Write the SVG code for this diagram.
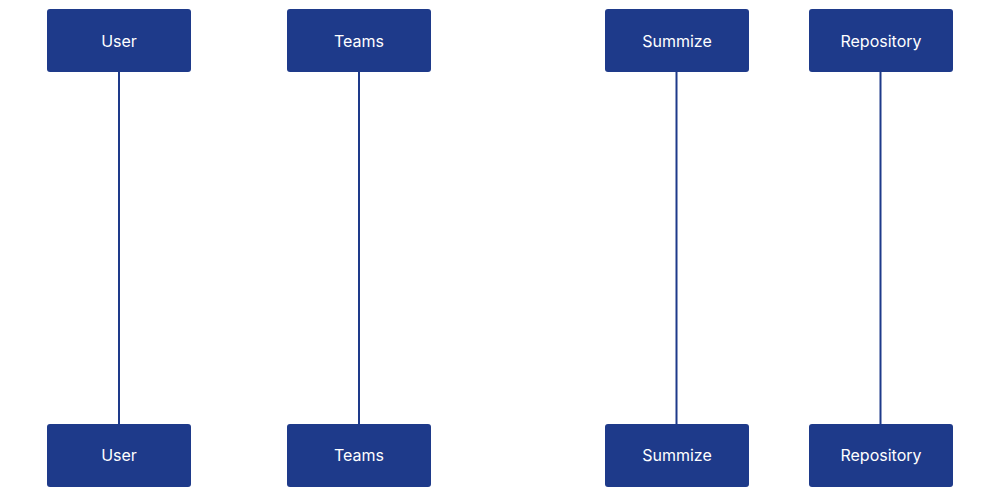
<svg xmlns="http://www.w3.org/2000/svg" width="1000" height="496" viewBox="0 0 1000 496">
<style>
.b{fill:#1e3a8a;}
.t{fill:#fff;font-family:Inter,"Liberation Sans",sans-serif;font-size:16px;text-anchor:middle;dominant-baseline:central;}
.l{stroke:#1e3a8a;stroke-width:2;}
</style>
<rect width="1000" height="496" fill="#fff"/>
<g id="connectors">
<line class="l" x1="119" y1="72" x2="119" y2="424"/>
<line class="l" x1="359" y1="72" x2="359" y2="424"/>
<line class="l" x1="676.500" y1="72" x2="676.500" y2="424"/>
<line class="l" x1="880.500" y1="72" x2="880.500" y2="424"/>
</g>
<g id="user-top"><rect class="b" x="47" y="9" width="144" height="63" rx="3"/><text class="t" x="119" y="41">User</text></g>
<g id="teams-top"><rect class="b" x="287" y="9" width="144" height="63" rx="3"/><text class="t" x="359" y="41">Teams</text></g>
<g id="summize-top"><rect class="b" x="605" y="9" width="144" height="63" rx="3"/><text class="t" x="677" y="41">Summize</text></g>
<g id="repository-top"><rect class="b" x="809" y="9" width="144" height="63" rx="3"/><text class="t" x="881" y="41">Repository</text></g>
<g id="user-bottom"><rect class="b" x="47" y="424" width="144" height="63" rx="3"/><text class="t" x="119" y="455">User</text></g>
<g id="teams-bottom"><rect class="b" x="287" y="424" width="144" height="63" rx="3"/><text class="t" x="359" y="455">Teams</text></g>
<g id="summize-bottom"><rect class="b" x="605" y="424" width="144" height="63" rx="3"/><text class="t" x="677" y="455">Summize</text></g>
<g id="repository-bottom"><rect class="b" x="809" y="424" width="144" height="63" rx="3"/><text class="t" x="881" y="455">Repository</text></g>
</svg>
